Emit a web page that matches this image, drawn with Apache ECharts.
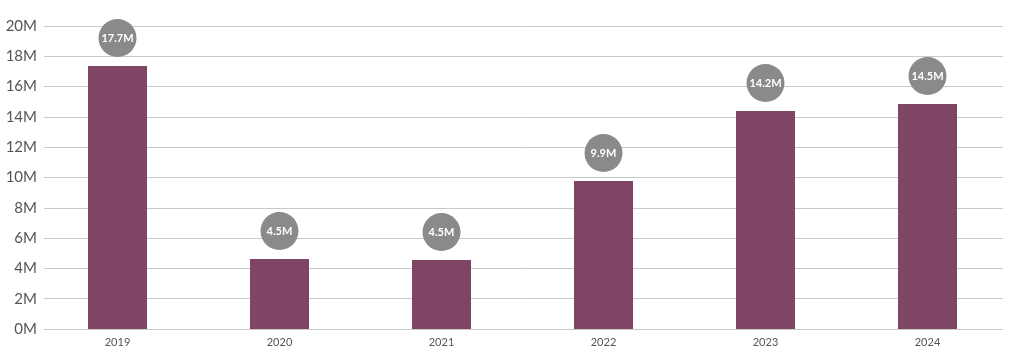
<!DOCTYPE html>
<html>
<head>
<meta charset="utf-8">
<script src="https://cdn.jsdelivr.net/npm/echarts@6/dist/echarts.min.js"></script>
<style>html,body{margin:0;padding:0;background:#fff}#c{width:1024px;height:361px}</style>
</head>
<body>
<div id="c"></div>
<script>
var categories = ['2019', '2020', '2021', '2022', '2023', '2024'];
var values = [17.36, 4.62, 4.55, 9.77, 14.39, 14.85];
var labels = ['17.7M', '4.5M', '4.5M', '9.9M', '14.2M', '14.5M'];
var yTicks = [0, 2, 4, 6, 8, 10, 12, 14, 16, 18, 20];

var chart = echarts.init(document.getElementById('c'), null, {renderer: 'canvas'});
var font = 'Lato, "Open Sans", sans-serif';
chart.setOption({
  animation: false,
  grid: [
    {left: 44, right: 21, top: 26, bottom: 32},
    {left: 36.5, right: 15.5, top: 26, bottom: 32}
  ],
  xAxis: [
    {gridIndex: 0, type: 'category', data: categories, show: false},
    {gridIndex: 1, type: 'category', data: categories,
     axisLine: {show: false}, axisTick: {show: false},
     axisLabel: {color: '#555', fontSize: 11, fontFamily: font, margin: 8}}
  ],
  yAxis: [
    {gridIndex: 0, type: 'value', min: 0, max: 20, interval: 2,
     axisLine: {show: false}, axisTick: {show: false},
     splitLine: {lineStyle: {color: '#c9c9c9', width: 1}},
     axisLabel: {color: '#555', fontSize: 15, fontFamily: font, margin: 7,
       formatter: function (v) { return v + 'M'; }}},
    {gridIndex: 1, type: 'value', min: 0, max: 20, interval: 2, show: false, splitLine: {show: false}}
  ],
  series: [{
    type: 'bar',
    xAxisIndex: 1, yAxisIndex: 1,
    data: values,
    barWidth: 59,
    itemStyle: {color: '#7f4564'},
    label: {
      show: true, position: 'top', distance: 9,
      formatter: function (p) { return labels[p.dataIndex]; },
      color: '#fff', fontSize: 11, fontFamily: font, fontWeight: 'bold',
      backgroundColor: '#8a8a8a', borderRadius: 19,
      width: 38, height: 38, lineHeight: 38, align: 'center'
    }
  }]
});
</script>
</body>
</html>
